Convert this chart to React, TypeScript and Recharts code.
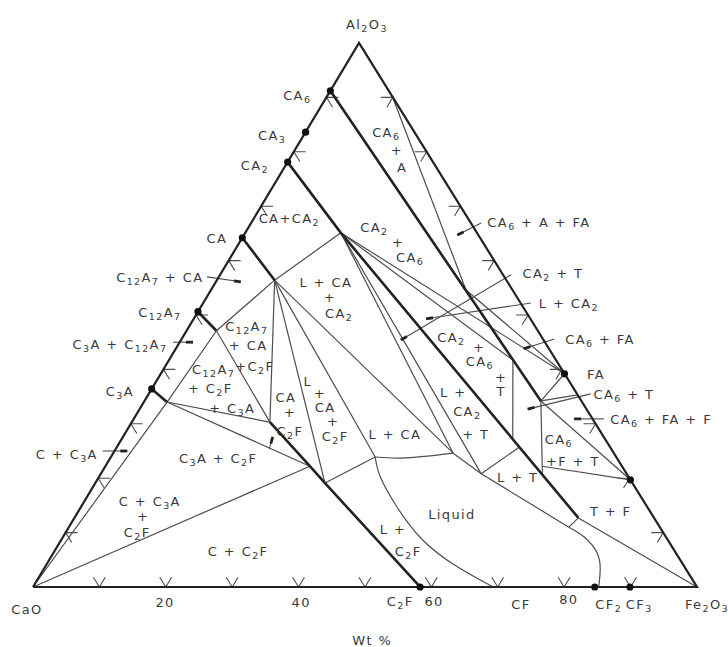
import React from 'react';
import { ComposedChart, Line, Scatter, XAxis, YAxis } from 'recharts';

// ---------- frame ----------
const W = 728;
const H = 647;
// chart units: X = wt% Fe2O3 + SKEW * wt% Al2O3, Y = wt% Al2O3
const SKEW = 0.491;
const X_DOMAIN: [number, number] = [-4.97, 104.67];
const Y_DOMAIN: [number, number] = [-11.03, 107.9];
const PX_X = W / (X_DOMAIN[1] - X_DOMAIN[0]);
const PX_Y = H / (Y_DOMAIN[1] - Y_DOMAIN[0]);

type Comp = [number, number]; // [wt% Fe2O3, wt% Al2O3]

// ---------- compositions ----------
const POINTS: Record<string, Comp> = {
  CaO: [0, 0], Al2O3: [0, 100], Fe2O3: [100, 0],
  CA6: [0, 91.2], CA3: [0, 83.6], CA2: [0, 78.1], CA: [0, 64.2], C12A7: [0, 50.6], C3A: [0, 36.4],
  C2F: [58.3, 0], CF2: [84.6, 0], CF3: [89.9, 0], FA: [60.8, 39.2],
  J1: [14.4, 65.1], JCA: [8.7, 56.4], J12: [4.5, 47.1], J3: [3.5, 34.0], C3Amid: [2.2, 34.9],
  K1: [20.8, 30.3], K2: [30.8, 22.2], K3: [34.6, 19.1],
  L1: [39.8, 23.9], L2: [51.2, 24.6], L3: [57.3, 20.8], L4: [75.3, 11.0], P: [75.9, 12.7],
  M1: [59.0, 27.0], M2: [60.6, 25.7], M3: [66.6, 20.6],
  V1: [51.8, 41.7], V2: [59.7, 34.2], N: [65.8, 22.2], Q: [38.4, 54.6],
  E2: [80.3, 19.7], E3: [64.7, 35.3], AT: [9.9, 90.1],
};

const COMPOUND_DOTS = ['CA6', 'CA3', 'CA2', 'CA', 'C12A7', 'C3A', 'C2F', 'CF2', 'CF3', 'FA', 'E2'];

const EDGES = ['CaO', 'Al2O3', 'Fe2O3', 'CaO'];

const THICK_JOINS: string[][] = [
  ['CA6', 'V2'],
  ['CA2', 'J1', 'P'],
  ['CA', 'JCA'],
  ['C12A7', 'J12'],
  ['K1', 'K2', 'K3', 'C2F'],
];
const THICK_CURVE = ['C3A', 'C3Amid', 'J3'];

const THIN_LINES: string[][] = [
  ['CaO', 'J3', 'J12'],
  ['CaO', 'K2'],
  ['J3', 'K1'],
  ['J3', 'K2'],
  ['J12', 'K1'],
  ['J12', 'JCA'],
  ['JCA', 'K1'],
  ['JCA', 'K3'],
  ['JCA', 'L1'],
  ['JCA', 'L2'],
  ['JCA', 'J1'],
  ['K3', 'L1'],
  ['L2', 'L3'],
  ['J1', 'L2'],
  ['J1', 'L3'],
  ['L3', 'M2'],
  ['L3', 'L4'],
  ['L4', 'P'],
  ['P', 'Fe2O3'],
  ['J1', 'V1'],
  ['V1', 'M1'],
  ['V2', 'M3'],
  ['N', 'E2'],
  ['V2', 'E2'],
  ['V2', 'E3'],
  ['FA', 'V2'],
  ['Q', 'FA'],
  ['J1', 'FA'],
  ['AT', 'Q'],
];

// curved boundaries
const LIQUID_C2F_CURVE: Comp[] = [[39.8, 23.9], [42.4, 20.2], [47.6, 14.7], [54.5, 8.6], [62.1, 3.7], [69.3, 0]];
const L_CA_CURVE: Comp[] = [[39.8, 23.9], [43.7, 23.7], [48.0, 24.1], [51.2, 24.6]];
const CF2_CURVE: Comp[] = [[75.3, 11.0], [78.5, 9.2], [81.9, 6.25], [83.9, 3.1], [85.2, 0]];

// edge tick marks every 10 wt%
const TICK_VALUES = [10, 20, 30, 40, 50, 60, 70, 80, 90];
const TICK_ARM = 1.8;

// leader lines for labels, in chart units [X, Y]
const LEADERS: { from: [number, number]; to: [number, number] }[] = [
  { from: [26.2, 57.0], to: [31.3, 56.1] },
  { from: [21.1, 45.0], to: [24.1, 45.0] },
  { from: [10.5, 25.0], to: [14.2, 25.0] },
  { from: [35.6, 25.4], to: [36.1, 27.6] },
  { from: [67.5, 66.9], to: [63.9, 64.7] },
  { from: [72.0, 57.4], to: [55.4, 45.4] },
  { from: [75.0, 52.2], to: [59.2, 49.3] },
  { from: [78.5, 45.6], to: [73.9, 43.8] },
  { from: [84.0, 35.5], to: [74.5, 32.7] },
  { from: [86.0, 30.9], to: [81.5, 30.9] },
];

// text labels, in chart units
const LABELS: { t: string; x: number; y: number }[] = [
  { t: 'Al_2O_3', x: 50.3, y: 103.5 },
  { t: 'CA_6', x: 39.8, y: 90.4 },
  { t: 'CA_3', x: 36.0, y: 83.1 },
  { t: 'CA_2', x: 33.4, y: 77.6 },
  { t: 'CA+CA_2', x: 38.6, y: 67.8 },
  { t: 'CA', x: 27.7, y: 64.2 },
  { t: 'C_{12}A_7 + CA', x: 19.1, y: 57.0 },
  { t: 'C_{12}A_7', x: 19.1, y: 50.6 },
  { t: 'C_3A + C_{12}A_7', x: 13.1, y: 44.7 },
  { t: 'C_3A', x: 13.1, y: 36.0 },
  { t: 'C + C_3A', x: 5.1, y: 24.4 },
  { t: 'C + C_3A', x: 17.6, y: 15.8 },
  { t: '+', x: 16.6, y: 13.1 },
  { t: 'C_2F', x: 15.7, y: 10.1 },
  { t: 'C + C_2F', x: 30.9, y: 6.6 },
  { t: 'C_3A + C_2F', x: 27.9, y: 23.7 },
  { t: 'C_{12}A_7', x: 32.2, y: 48.0 },
  { t: '+ CA', x: 32.4, y: 44.5 },
  { t: '+C_2F', x: 33.4, y: 40.6 },
  { t: 'C_{12}A_7', x: 27.2, y: 40.1 },
  { t: '+ C_2F', x: 26.7, y: 36.6 },
  { t: '+ C_3A', x: 30.0, y: 32.9 },
  { t: 'CA', x: 38.1, y: 34.9 },
  { t: '+', x: 38.7, y: 32.2 },
  { t: 'C_2F', x: 38.7, y: 28.7 },
  { t: 'L', x: 41.4, y: 37.9 },
  { t: '+', x: 43.2, y: 35.7 },
  { t: 'CA', x: 44.0, y: 33.1 },
  { t: '+', x: 45.2, y: 30.5 },
  { t: 'C_2F', x: 45.5, y: 27.8 },
  { t: 'L + CA', x: 44.1, y: 56.1 },
  { t: '+', x: 44.7, y: 53.3 },
  { t: 'CA_2', x: 46.1, y: 50.4 },
  { t: 'CA_6', x: 53.2, y: 83.6 },
  { t: '+', x: 54.8, y: 80.3 },
  { t: 'A', x: 55.6, y: 77.2 },
  { t: 'CA_6 + A + FA', x: 76.2, y: 67.1 },
  { t: 'CA_2', x: 51.4, y: 66.2 },
  { t: '+', x: 55.0, y: 63.4 },
  { t: 'CA_6', x: 56.8, y: 60.7 },
  { t: 'CA_2 + T', x: 78.3, y: 57.7 },
  { t: 'L + CA_2', x: 80.7, y: 52.2 },
  { t: 'CA_6 + FA', x: 85.4, y: 45.6 },
  { t: 'FA', x: 84.8, y: 39.2 },
  { t: 'CA_6 + T', x: 89.0, y: 35.5 },
  { t: 'CA_6 + FA + F', x: 94.6, y: 30.9 },
  { t: 'CA_2', x: 63.0, y: 46.0 },
  { t: '+', x: 67.2, y: 44.1 },
  { t: 'CA_6', x: 67.3, y: 41.5 },
  { t: '+', x: 70.5, y: 38.6 },
  { t: 'T', x: 70.5, y: 36.0 },
  { t: 'L +', x: 63.3, y: 35.8 },
  { t: 'CA_2', x: 65.4, y: 32.4 },
  { t: '+ T', x: 66.7, y: 28.1 },
  { t: 'L + CA', x: 54.5, y: 28.1 },
  { t: 'CA_6', x: 79.2, y: 27.2 },
  { t: '+F + T', x: 81.3, y: 23.2 },
  { t: 'L + T', x: 73.0, y: 20.2 },
  { t: 'Liquid', x: 63.1, y: 13.4 },
  { t: 'T + F', x: 87.0, y: 14.0 },
  { t: 'L +', x: 54.2, y: 10.7 },
  { t: 'C_2F', x: 56.5, y: 6.6 },
  { t: 'CaO', x: -0.9, y: -4.0 },
  { t: '20', x: 19.9, y: -2.8 },
  { t: '40', x: 40.4, y: -2.8 },
  { t: 'C_2F', x: 55.3, y: -2.6 },
  { t: '60', x: 60.4, y: -2.6 },
  { t: 'CF', x: 73.5, y: -3.1 },
  { t: '80', x: 80.7, y: -2.2 },
  { t: 'CF_2', x: 86.7, y: -3.1 },
  { t: 'CF_3', x: 91.3, y: -3.1 },
  { t: 'Fe_2O_3', x: 101.5, y: -3.1 },
  { t: 'Wt %', x: 51.1, y: -9.7 },
];

// ---------- helpers ----------
const toXY = ([fe, al]: Comp) => ({ x: fe + SKEW * al, y: al });
const keysToXY = (keys: string[]) => keys.map((k) => toXY(POINTS[k]));

const tickMarks = (): { x: number; y: number }[][] => {
  const out: { x: number; y: number }[][] = [];
  const d = TICK_ARM;
  TICK_VALUES.forEach((v) => {
    out.push([toXY([v, d]), toXY([v, 0]), toXY([v - d, d])]);
    out.push([toXY([d, v]), toXY([0, v]), toXY([d, v - d])]);
    out.push([toXY([100 - v - d, v]), toXY([100 - v, v]), toXY([100 - v, v - d])]);
  });
  return out;
};

const leaderHead = (from: [number, number], to: [number, number]) => {
  const dx = (to[0] - from[0]) * PX_X;
  const dy = (to[1] - from[1]) * PX_Y;
  const len = Math.hypot(dx, dy);
  const f = Math.min(1, 7 / len);
  return [
    { x: to[0] - (to[0] - from[0]) * f, y: to[1] - (to[1] - from[1]) * f },
    { x: to[0], y: to[1] },
  ];
};

const renderRich = (s: string) => {
  const tokens = s.split(/(_\{[^}]+\}|_[0-9A-Za-z])/).filter((t) => t !== '');
  let shifted = false;
  return tokens.map((tok, i) => {
    if (tok.startsWith('_')) {
      const txt = tok.startsWith('_{') ? tok.slice(2, -1) : tok.slice(1);
      const el = (
        <tspan key={i} dy={shifted ? 0 : 4} fontSize={9.5}>
          {txt}
        </tspan>
      );
      shifted = true;
      return el;
    }
    const el = (
      <tspan key={i} dy={shifted ? -4 : 0}>
        {tok}
      </tspan>
    );
    shifted = false;
    return el;
  });
};

const LabelShape = (p: any) => {
  const t = p?.payload?.t ?? p?.t;
  if (p.cx == null || p.cy == null || !t) return <g />;
  return (
    <text
      x={p.cx}
      y={p.cy}
      textAnchor="middle"
      dominantBaseline="central"
      fontFamily="'DejaVu Sans', 'Noto Sans', sans-serif"
      fontSize={13}
      letterSpacing={1.4}
      fill="#3a3a3a"
    >
      {renderRich(t)}
    </text>
  );
};

const DotShape = (p: any) => {
  if (p.cx == null || p.cy == null) return <g />;
  return <circle cx={p.cx} cy={p.cy} r={3.6} fill="#111" />;
};

const THIN = '#4d4d4d';
const THICK = '#222';

export default function App() {
  const ticks = tickMarks();
  const lineProps = { dot: false as const, activeDot: false as const, isAnimationActive: false, legendType: 'none' as const };
  return (
    <div style={{ position: 'absolute', left: 0, top: 0, width: W, height: H, background: '#fff' }}>
      <ComposedChart width={W} height={H} margin={{ top: 0, right: 0, bottom: 0, left: 0 }}>
        <XAxis type="number" dataKey="x" domain={X_DOMAIN} allowDataOverflow hide />
        <YAxis type="number" dataKey="y" domain={Y_DOMAIN} allowDataOverflow hide />

        {THIN_LINES.map((keys, i) => (
          <Line key={'thin' + i} data={keysToXY(keys)} dataKey="y" type="linear" stroke={THIN} strokeWidth={1.2} {...lineProps} />
        ))}

        {[LIQUID_C2F_CURVE, L_CA_CURVE, CF2_CURVE].map((c, i) => (
          <Line key={'curve' + i} data={c.map(toXY)} dataKey="y" type="natural" stroke={THIN} strokeWidth={1.2} {...lineProps} />
        ))}

        {ticks.map((t, i) => (
          <Line key={'tick' + i} data={t} dataKey="y" type="linear" stroke={THIN} strokeWidth={1.1} {...lineProps} />
        ))}

        {LEADERS.map((l, i) => (
          <Line
            key={'lead' + i}
            data={[{ x: l.from[0], y: l.from[1] }, { x: l.to[0], y: l.to[1] }]}
            dataKey="y"
            type="linear"
            stroke={THIN}
            strokeWidth={1.1}
            {...lineProps}
          />
        ))}
        {LEADERS.map((l, i) => (
          <Line key={'head' + i} data={leaderHead(l.from, l.to)} dataKey="y" type="linear" stroke={THICK} strokeWidth={2.8} {...lineProps} />
        ))}

        <Line data={keysToXY(EDGES)} dataKey="y" type="linear" stroke={THICK} strokeWidth={2.2} {...lineProps} />
        {THICK_JOINS.map((keys, i) => (
          <Line key={'thick' + i} data={keysToXY(keys)} dataKey="y" type="linear" stroke={THICK} strokeWidth={2.6} {...lineProps} />
        ))}
        <Line data={keysToXY(THICK_CURVE)} dataKey="y" type="natural" stroke={THICK} strokeWidth={2.6} {...lineProps} />

        <Scatter data={keysToXY(COMPOUND_DOTS)} dataKey="y" shape={DotShape} isAnimationActive={false} legendType="none" />
        <Scatter data={LABELS} dataKey="y" shape={LabelShape} isAnimationActive={false} legendType="none" />
      </ComposedChart>
    </div>
  );
}
